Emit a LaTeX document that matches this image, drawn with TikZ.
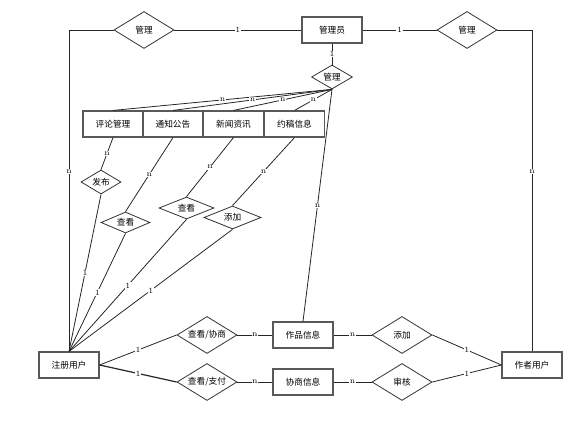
\documentclass[tikz,border=0pt]{standalone}
\usepackage{fontspec}
\newfontfamily\cjk{Noto Sans CJK SC}
\usetikzlibrary{shapes.geometric}
\tikzset{
  ent/.style={draw=black!65, line width=0.85pt, rectangle, minimum width=45pt,
    minimum height=19.5pt, inner sep=0pt, font=\cjk\fontsize{6.5}{7}\selectfont},
  rel/.style={draw=black!80, line width=0.6pt, diamond, aspect=1.6, inner sep=0pt,
    font=\cjk\fontsize{6.5}{7}\selectfont},
  card/.style={fill=white, inner sep=0.5pt, font=\fontsize{6}{6}\selectfont},
  lnk/.style={draw=black!85, line width=0.6pt}
}
\begin{document}
\begin{tikzpicture}[x=0.75pt, y=-0.75pt]
\useasboundingbox (0,0) rectangle (576,423);
% entities
\node[ent] (admin) at (332,30) {管理员};
\node[ent] (cmt) at (113,124) {评论管理};
\node[ent] (note) at (173,124) {通知公告};
\node[ent] (news) at (233.5,124) {新闻资讯};
\node[ent] (req) at (294.5,124) {约稿信息};
\node[ent] (reg) at (69,365) {注册用户};
\node[ent] (work) at (303,335) {作品信息};
\node[ent] (nego) at (303,382) {协商信息};
\node[ent] (auth) at (532,365) {作者用户};
% relations
\node[rel, minimum width=45pt, minimum height=27.75pt] (mgL) at (144,30) {管理};
\node[rel, minimum width=45pt, minimum height=27.75pt] (mgR) at (467,30) {管理};
\node[rel, minimum width=30.75pt, minimum height=18pt] (mgC) at (332,77) {管理};
\node[rel, minimum width=30pt, minimum height=18pt] (pub) at (101,182) {发布};
\node[rel, minimum width=36.75pt, minimum height=15.75pt] (see1) at (125.5,222.5) {查看};
\node[rel, minimum width=41.25pt, minimum height=16.5pt] (see2) at (186.5,208) {查看};
\node[rel, minimum width=42.75pt, minimum height=17.25pt] (addM) at (232.5,217.5) {添加};
\node[rel, minimum width=45pt, minimum height=27.75pt] (seeN) at (207,335) {查看/协商};
\node[rel, minimum width=45pt, minimum height=27.75pt] (seeP) at (207,382) {查看/支付};
\node[rel, minimum width=45pt, minimum height=27.75pt] (addR) at (402,335) {添加};
\node[rel, minimum width=45pt, minimum height=27.75pt] (chk) at (402,382) {审核};
% top row
\draw[lnk] (mgL.east) -- node[card]{1} (admin.west);
\draw[lnk] (admin.east) -- node[card]{1} (mgR.west);
\draw[lnk] (mgL.west) -| node[card, pos=0.72]{n} (reg.north);
\draw[lnk] (mgR.east) -| node[card, pos=0.72]{n} (auth.north);
\draw[lnk] (admin.south) -- node[card]{1} (mgC.north);
% admin manages the four entities
\foreach \e in {cmt,note,news,req}
  \draw[lnk] (mgC.south) -- node[card]{n} (\e.north);
\draw[lnk] (mgC.south) -- node[card]{n} (work.north);
% registered user
\draw[lnk] (cmt.south) -- node[card]{n} (pub.north);
\draw[lnk] (note.south) -- node[card]{n} (see1.north);
\draw[lnk] (news.south) -- node[card]{n} (see2.north);
\draw[lnk] (req.south) -- node[card]{n} (addM.north);
\foreach \r in {pub,see1,see2,addM}
  \draw[lnk] (\r.south) -- node[card]{1} (reg.north);
\draw[lnk] (reg.east) -- node[card]{1} (seeN.west);
\draw[lnk, line width=0.9pt] (reg.east) -- node[card]{1} (seeP.west);
\draw[lnk] (seeN.east) -- node[card]{n} (work.west);
\draw[lnk] (seeP.east) -- node[card]{n} (nego.west);
% author
\draw[lnk] (work.east) -- node[card]{n} (addR.west);
\draw[lnk] (nego.east) -- node[card]{n} (chk.west);
\draw[lnk] (addR.east) -- node[card]{1} (auth.west);
\draw[lnk] (chk.east) -- node[card]{1} (auth.west);
\end{tikzpicture}
\end{document}
